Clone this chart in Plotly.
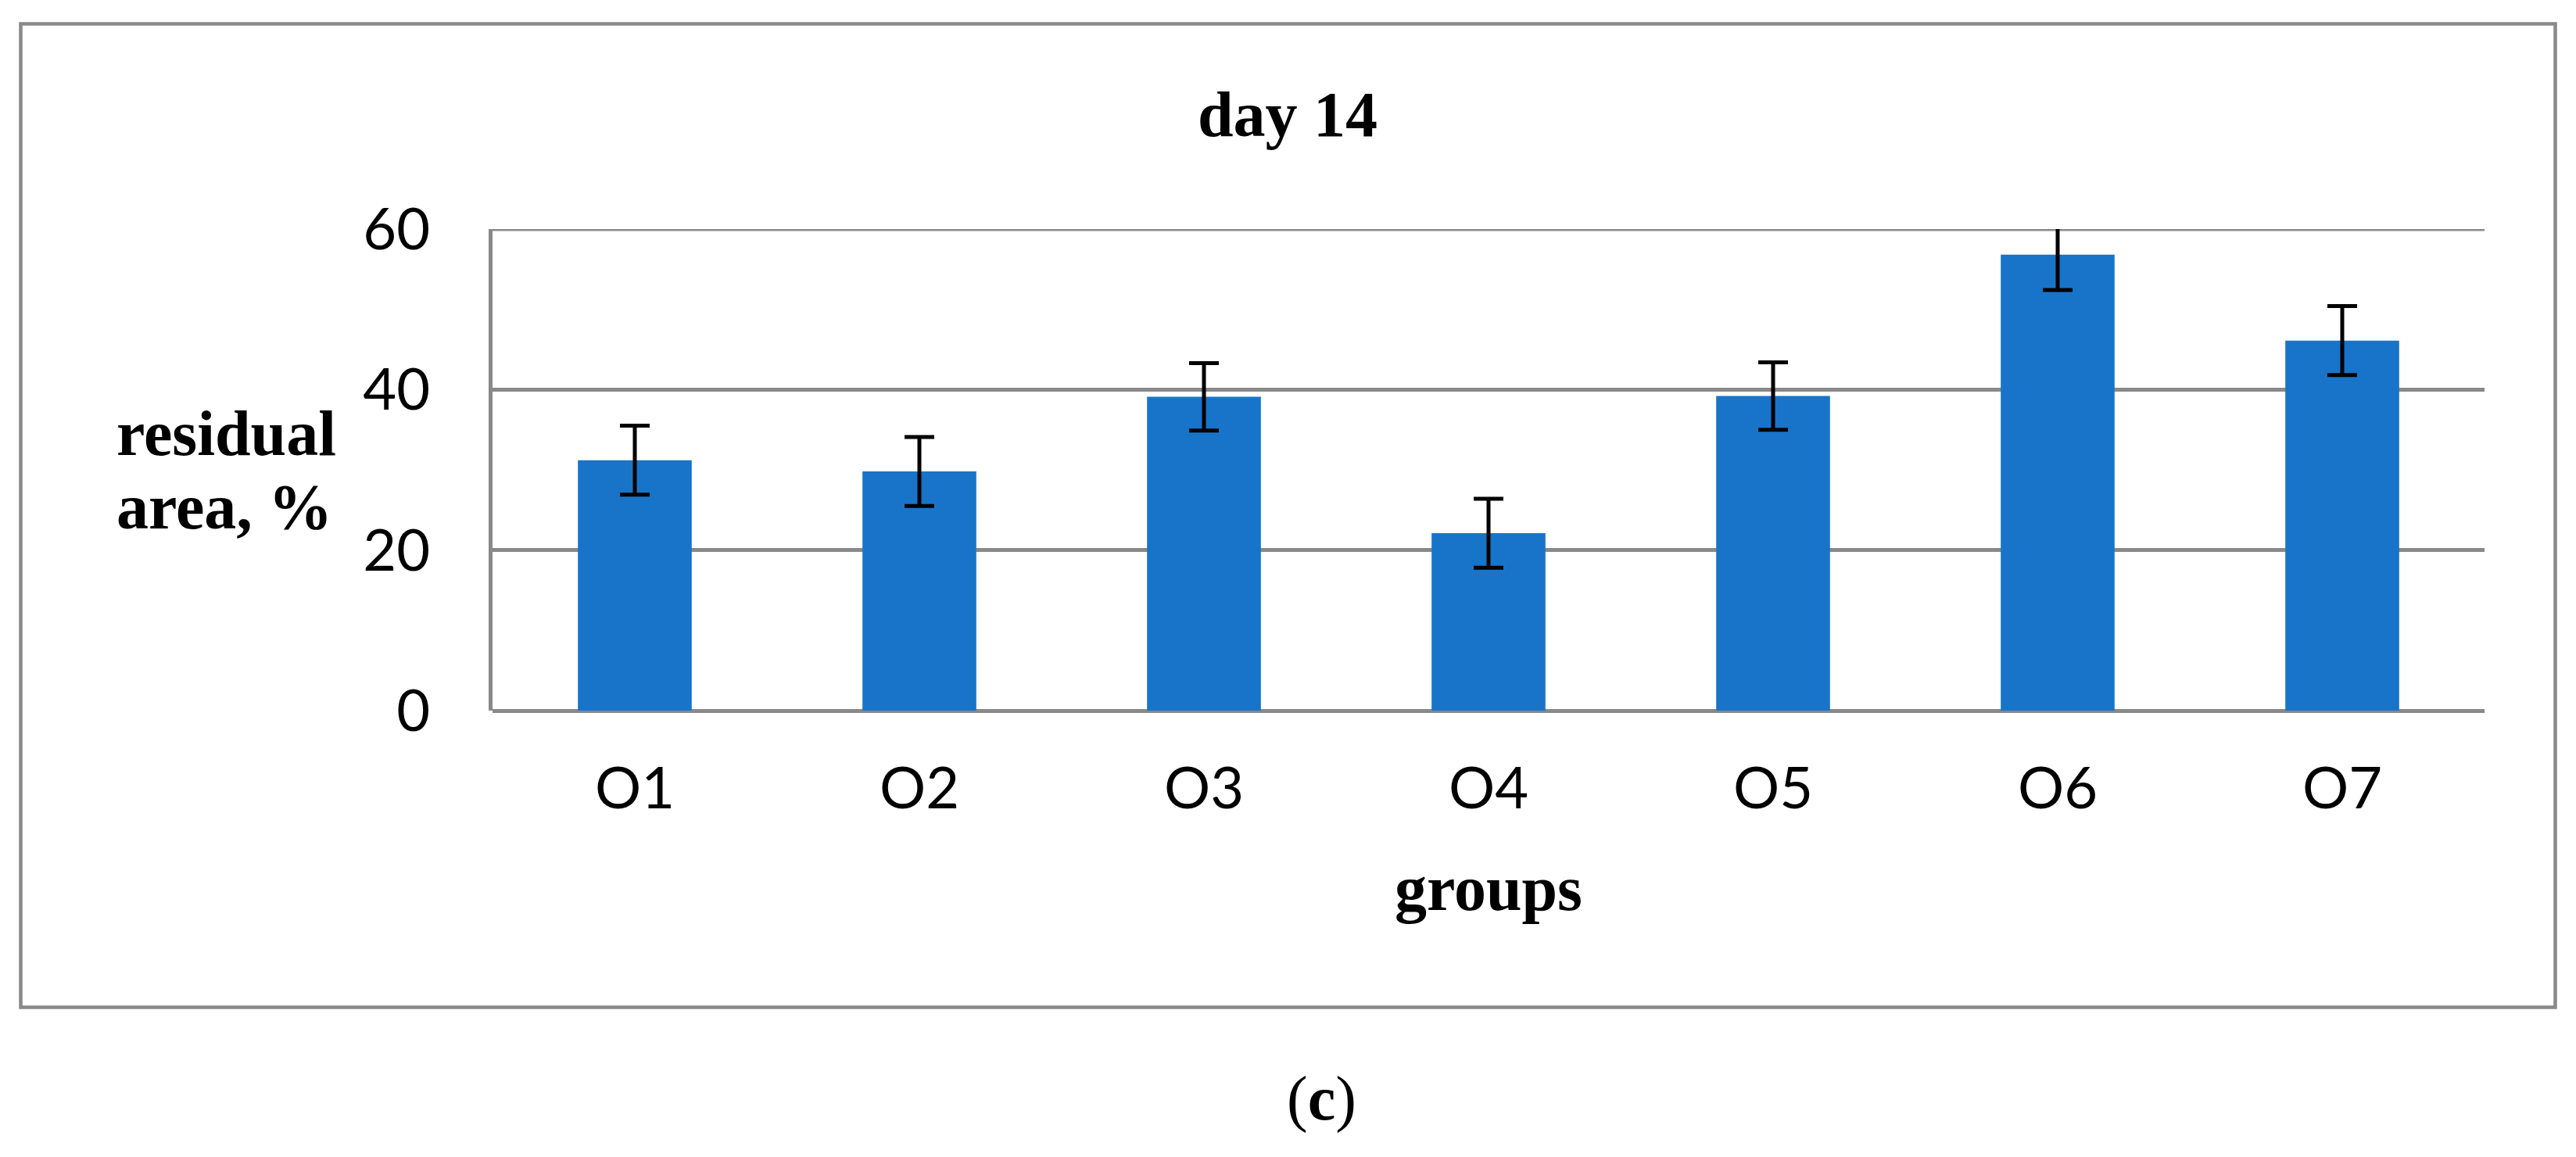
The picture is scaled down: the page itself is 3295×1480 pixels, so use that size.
import plotly.graph_objects as go

# ---- data ----
groups = ["O1", "O2", "O3", "O4", "O5", "O6", "O7"]
residual_area = [31.2, 29.8, 39.1, 22.1, 39.2, 56.8, 46.1]
error_sd = [4.3, 4.3, 4.2, 4.3, 4.2, 4.4, 4.3]
y_ticks = [0, 20, 40, 60]

# ---- layout geometry (page pixels) ----
W, H = 3295, 1480
OFF = 8                      # default body margin of the html page
FW, FH = W - 2 * OFF, H - 2 * OFF
PLOT_L, PLOT_R, PLOT_T, PLOT_B = 630, 3178, 293, 909
L = PLOT_L - OFF
T = PLOT_T - OFF
R = FW - (PLOT_R - OFF)
B = FH - (PLOT_B - OFF)
PW = PLOT_R - PLOT_L
PH = PLOT_B - PLOT_T
GRAY = "#898989"
SERIF = "Liberation Serif, Times New Roman, serif"
SANS = "Lato, Calibri, sans-serif"


def px(x):
    return (x - PLOT_L) / PW


def py(y):
    return (PLOT_B - y) / PH


fig = go.Figure(
    go.Bar(
        x=groups,
        y=residual_area,
        marker=dict(color="#1874C9", line=dict(width=0)),
        error_y=dict(type="data", array=error_sd, visible=True,
                     color="black", thickness=5, width=19),
    )
)

fig.update_layout(
    width=FW, height=FH,
    margin=dict(l=L, r=R, t=T, b=B, autoexpand=False),
    plot_bgcolor="white", paper_bgcolor="white",
    bargap=0.6, showlegend=False,
    xaxis=dict(showgrid=False, showline=False, zeroline=False, ticks="",
               tickfont=dict(family=SANS, size=74, color="black"),
               ticklabelstandoff=50),
    yaxis=dict(range=[0, 60], tickvals=y_ticks, showgrid=True,
               gridcolor=GRAY, gridwidth=5, showline=True, linecolor=GRAY,
               linewidth=5, zeroline=True, zerolinecolor=GRAY,
               zerolinewidth=5, ticks="",
               tickfont=dict(family=SANS, size=74, color="black"),
               ticklabelstandoff=60),
)

# top gridline (plotly omits the gridline at the range edge)
fig.add_shape(type="line", xref="paper", yref="y", x0=0, x1=1,
              y0=y_ticks[-1], y1=y_ticks[-1],
              line=dict(color=GRAY, width=5), layer="below")

# outer frame
fig.add_shape(type="rect", xref="paper", yref="paper",
              x0=px(26.5), x1=px(3268.5), y0=py(1288.5), y1=py(30.5),
              line=dict(color=GRAY, width=4.5), fillcolor="rgba(0,0,0,0)",
              layer="below")

ann_font = dict(family=SERIF, size=82, color="black")
fig.add_annotation(text="<b>day 14</b>", xref="paper", yref="paper",
                   x=px(1647), y=py(146), xanchor="center", yanchor="middle",
                   showarrow=False, font=ann_font)
fig.add_annotation(text="<b>groups</b>", xref="paper", yref="paper",
                   x=px(1904), y=py(1136), xanchor="center", yanchor="middle",
                   showarrow=False, font=ann_font)
fig.add_annotation(text="<b>residual</b>", xref="paper", yref="paper",
                   x=px(147), y=py(554), xanchor="left", yanchor="middle",
                   showarrow=False, font=ann_font)
fig.add_annotation(text="<b>area, %</b>", xref="paper", yref="paper",
                   x=px(147), y=py(648), xanchor="left", yanchor="middle",
                   showarrow=False, font=ann_font)
fig.add_annotation(text="(<b>c</b>)", xref="paper", yref="paper",
                   x=px(1690), y=py(1405), xanchor="center", yanchor="middle",
                   showarrow=False, font=dict(family=SERIF, size=80, color="black"))

fig.write_html("out.html")
